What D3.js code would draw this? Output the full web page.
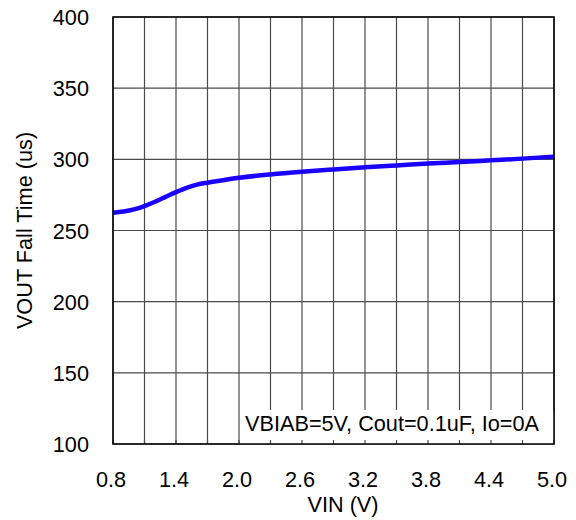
<!DOCTYPE html>
<html>
<head>
<meta charset="utf-8">
<script src="https://cdn.jsdelivr.net/npm/d3@7"></script>
<style>
  html, body { margin: 0; padding: 0; background: #fff; }
  svg { display: block; font-family: "Liberation Sans", Arial, Helvetica, sans-serif; }
</style>
</head>
<body>
<svg id="chart" width="576" height="520"></svg>
<script>
// ---- data ----
const vin = [0.8, 0.9, 1.0, 1.1, 1.2, 1.3, 1.4, 1.5, 1.6, 1.7, 1.8, 2.0, 2.3, 2.6, 2.9, 3.2, 3.5, 3.8, 4.1, 4.4, 4.7, 5.0];
const fallTime = [262.5, 263.3, 264.8, 267.2, 270.2, 273.6, 277.0, 280.0, 282.2, 283.6, 284.8, 287.0, 289.4, 291.3, 292.9, 294.4, 295.7, 297.0, 298.1, 299.3, 300.5, 301.9];
const xTicks = [0.8, 1.4, 2.0, 2.6, 3.2, 3.8, 4.4, 5.0];
const xGrid = [0.8, 1.1, 1.4, 1.7, 2.0, 2.3, 2.6, 2.9, 3.2, 3.5, 3.8, 4.1, 4.4, 4.7, 5.0];
const yTicks = [100, 150, 200, 250, 300, 350, 400];
const xTitle = "VIN (V)";
const yTitle = "VOUT Fall Time (us)";
const note = "VBIAB=5V, Cout=0.1uF, Io=0A";

// ---- layout ----
const L = 113, R = 554, T = 17, B = 444;
const FS = 21.7;
const svg = d3.select("#chart");
const x = d3.scaleLinear().domain([0.8, 5.0]).range([L, R]);
const y = d3.scaleLinear().domain([100, 400]).range([B, T]);

// grid
const grid = svg.append("g").attr("stroke", "#4a4a4a").attr("stroke-width", 1.2);
grid.selectAll("line.v").data(xGrid).join("line").attr("class", "v")
  .attr("x1", d => x(d)).attr("x2", d => x(d)).attr("y1", T).attr("y2", B);
grid.selectAll("line.h").data(yTicks).join("line").attr("class", "h")
  .attr("x1", L).attr("x2", R).attr("y1", d => y(d)).attr("y2", d => y(d));

// annotation box (white, covers grid)
const boxLeft = x(2.0) + 1;
svg.append("rect").attr("x", boxLeft).attr("y", 410).attr("width", R - boxLeft).attr("height", B - 410).attr("fill", "#fff");
svg.selectAll("line.bt").data(xGrid).join("line").attr("class", "bt")
  .attr("x1", d => x(d)).attr("x2", d => x(d)).attr("y1", B).attr("y2", B - 4)
  .attr("stroke", "#4a4a4a").attr("stroke-width", 1.2);

// curve
svg.append("path")
  .datum(vin.map((v, i) => [v, fallTime[i]]))
  .attr("fill", "none").attr("stroke", "#1a00ff").attr("stroke-width", 4.5)
  .attr("stroke-linecap", "butt")
  .attr("d", d3.line().x(d => x(d[0])).y(d => y(d[1])).curve(d3.curveMonotoneX));

// frame
svg.append("rect").attr("x", L).attr("y", T).attr("width", R - L).attr("height", B - T)
  .attr("fill", "none").attr("stroke", "#000").attr("stroke-width", 1.5);

// axes labels using d3 axes (text only)
const xAxis = d3.axisBottom(x).tickValues(xTicks).tickFormat(d3.format(".1f")).tickSize(0).tickPadding(0);
const gx = svg.append("g").attr("transform", `translate(-2.5,${B})`).call(xAxis);
gx.select(".domain").remove();
gx.selectAll("text").attr("font-size", FS).attr("fill", "#000").attr("dy", null).attr("y", 43)
  .style("font-family", "'Liberation Sans', Arial, sans-serif");

const yAxis = d3.axisLeft(y).tickValues(yTicks).tickFormat(d3.format("d")).tickSize(0).tickPadding(0);
const gy = svg.append("g").attr("transform", `translate(${L - 24},0)`).call(yAxis);
gy.select(".domain").remove();
gy.selectAll("text").attr("font-size", FS).attr("fill", "#000").attr("x", 0).attr("dy", "0.35em")
  .style("font-family", "'Liberation Sans', Arial, sans-serif");

// titles
svg.append("text").attr("x", 343).attr("y", 512).attr("text-anchor", "middle")
  .attr("font-size", FS).attr("fill", "#000").text(xTitle);
svg.append("text").attr("transform", `translate(32,${(T + B) / 2}) rotate(-90)`).attr("text-anchor", "middle")
  .attr("font-size", FS).attr("fill", "#000").text(yTitle);

// note
svg.append("text").attr("x", 245).attr("y", 431).attr("font-size", FS).attr("fill", "#000").text(note);
</script>
</body>
</html>
